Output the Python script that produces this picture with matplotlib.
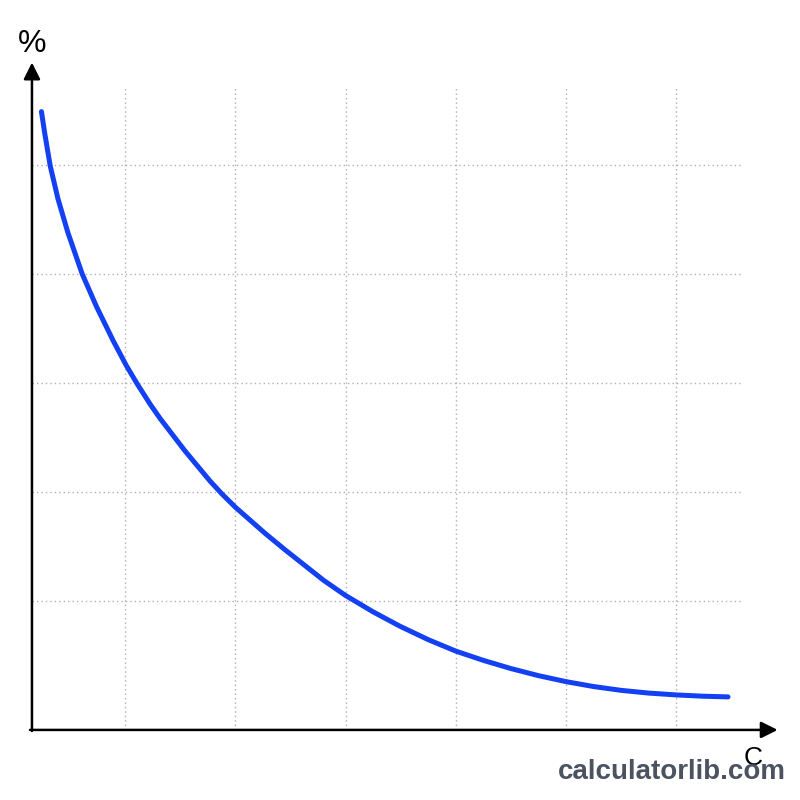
import numpy as np
import matplotlib.pyplot as plt

# curve (grid units: vertical grid lines at x = 1..6,
# horizontal grid lines at y = 1..5)
x_vals = [0.24, 0.27, 0.32, 0.39, 0.48, 0.61, 0.74, 0.89, 1.01, 1.11, 1.23,
          1.32, 1.54, 1.77, 1.88, 2.00, 2.27, 2.45, 2.65, 2.80, 3.00, 3.25,
          3.49, 3.75, 4.00, 4.25, 4.50, 4.75, 5.00, 5.25, 5.50, 5.75, 6.00,
          6.25, 6.47]
y_vals = [5.49, 5.29, 4.99, 4.69, 4.38, 4.00, 3.70, 3.39, 3.16, 2.99, 2.80,
          2.67, 2.38, 2.10, 1.98, 1.86, 1.62, 1.47, 1.31, 1.19, 1.05, 0.90,
          0.77, 0.645, 0.54, 0.455, 0.38, 0.315, 0.26, 0.215, 0.18, 0.155,
          0.138, 0.126, 0.12]

grid_x = [1, 2, 3, 4, 5, 6]
grid_y = [1, 2, 3, 4, 5]

x_label = "C"
y_label = "%"
watermark = "calculatorlib.com"

# axes origin / extents in grid units
x0, y0 = 0.154, -0.183
x_tip, y_tip = 6.92, 5.94
grid_right, grid_top = 6.58, 5.72

fig = plt.figure(figsize=(8, 8), dpi=100)
ax = fig.add_axes([0, 0, 1, 1])
ax.set_xlim(-0.136, 7.123)
ax.set_ylim(-0.826, 6.514)
ax.axis("off")

# dotted grid
ax.vlines(grid_x, y0, grid_top, colors="#b0b0b0", lw=1.0,
          linestyles=(0, (1, 2.2)), zorder=1)
ax.hlines(grid_y, x0, grid_right, colors="#b0b0b0", lw=1.0,
          linestyles=(0, (1, 2.2)), zorder=1)

# axes with arrow heads
arrow = dict(arrowstyle="-|>", color="black", lw=1.8, mutation_scale=25,
             shrinkA=0, shrinkB=0)
ax.annotate("", xy=(x0, y_tip), xytext=(x0, y0 - 0.01), arrowprops=arrow, zorder=3)
ax.annotate("", xy=(x_tip, y0), xytext=(0.136, y0), arrowprops=arrow, zorder=3)

# curve
ax.plot(x_vals, y_vals, color="#1240f2", lw=3.6, solid_capstyle="round",
        solid_joinstyle="round", zorder=4)

# labels
ax.text(x0, 6.11, y_label, fontsize=23, family="Liberation Sans",
        ha="center", va="center", color="black")
ax.text(6.70, -0.44, x_label, fontsize=19, family="Liberation Sans",
        ha="center", va="center", color="black", zorder=2)
ax.text(5.96, -0.57, watermark, fontsize=20, fontweight="bold",
        family="Liberation Sans", ha="center", va="center", color="#4b5260",
        zorder=5)

fig.savefig("out.png", dpi=100)
